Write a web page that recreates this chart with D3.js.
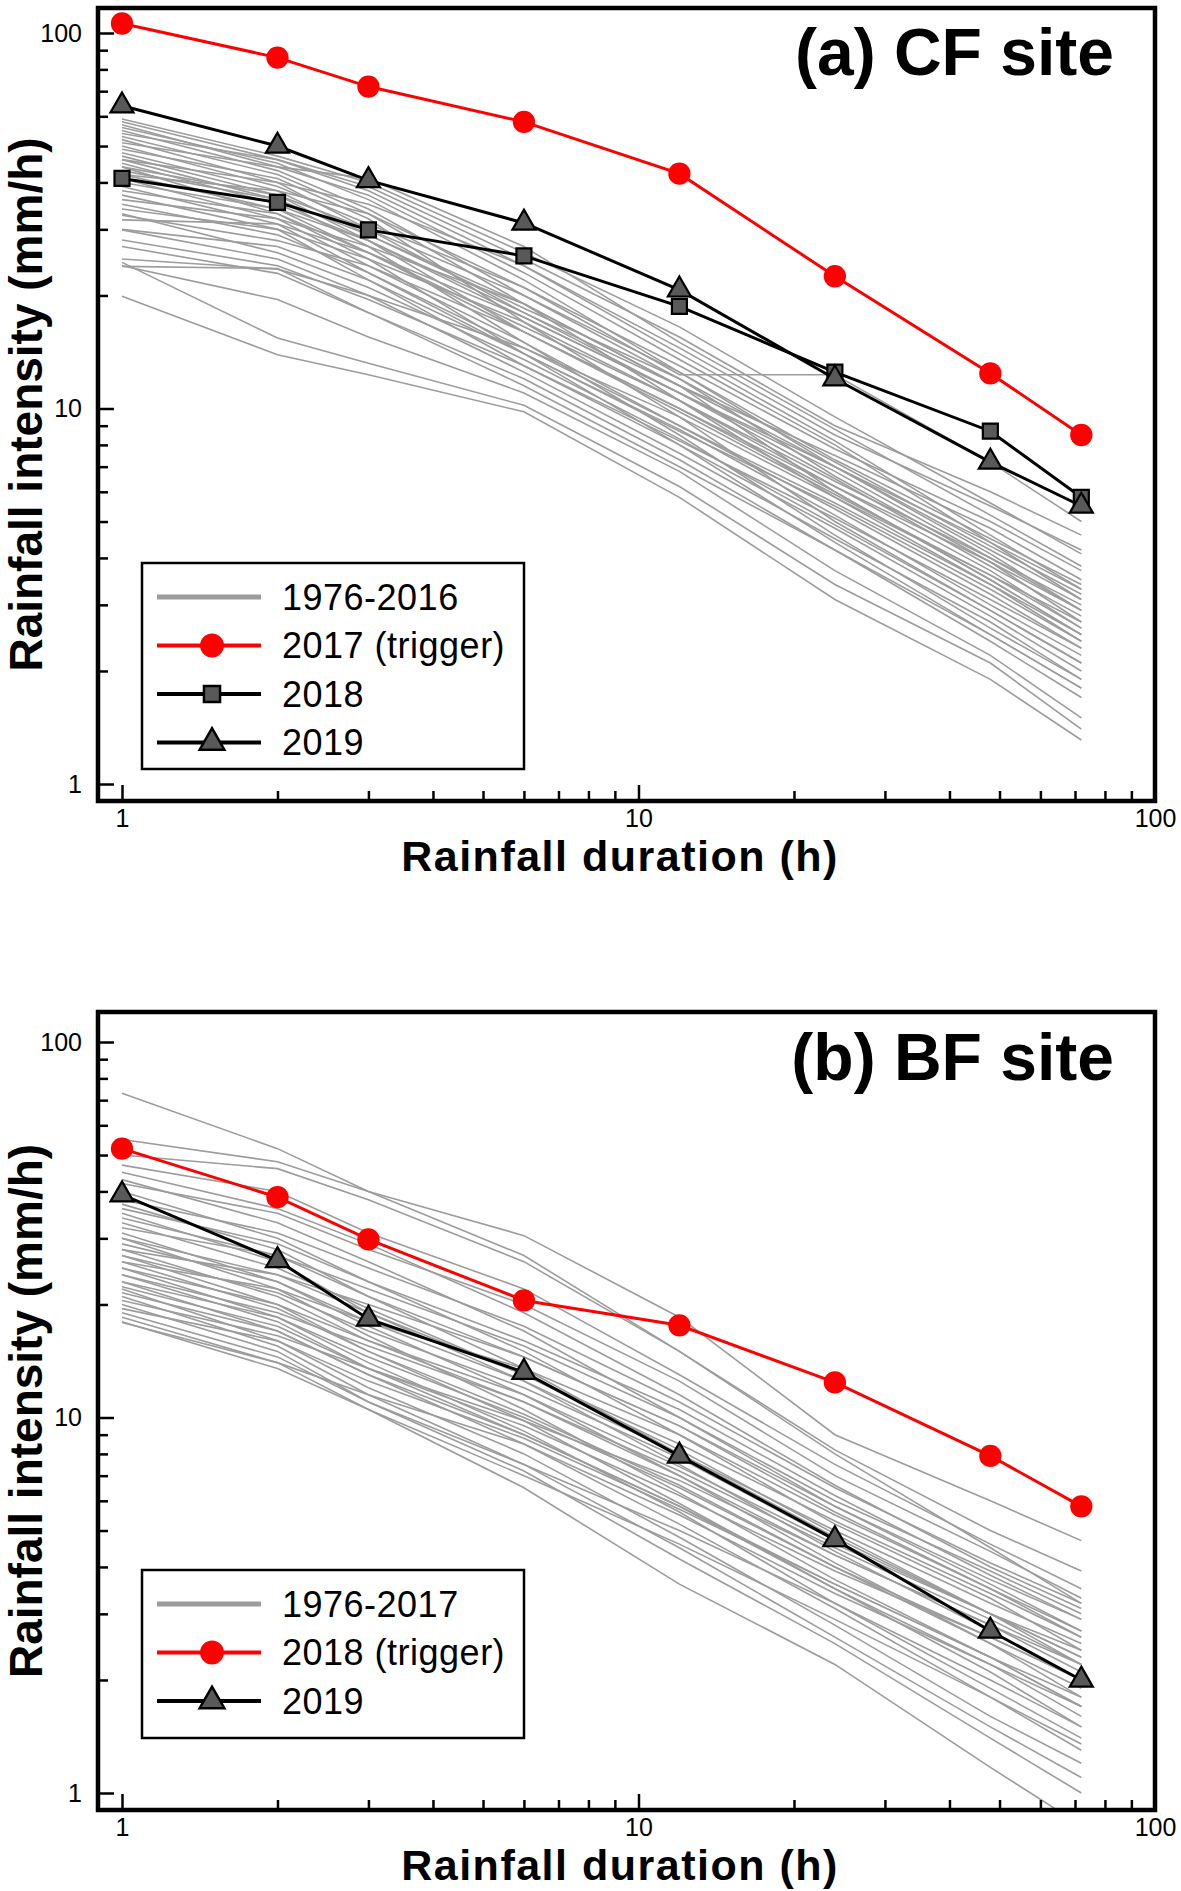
<!DOCTYPE html>
<html>
<head>
<meta charset="utf-8">
<script src="https://cdn.jsdelivr.net/npm/d3@7"></script>
<style>
  body { margin: 0; background: #fff; }
  svg { display: block; font-family: "Liberation Sans", Arial, Helvetica, sans-serif; }
</style>
</head>
<body>
<svg id="chart" width="1181" height="1891"></svg>
<script>
// rainfall durations (h), shared by both panels
const durations = [1, 2, 3, 6, 12, 24, 48, 72];
const majorTicks = [1, 10, 100];

// (a) CF site, intensity (mm/h) at each duration
const cfHistory = [
    [59, 47, 40, 26, 16.5, 9.5, 5.6, 4.1],
    [58, 46, 38, 24, 14, 8.2, 4.6, 3.3],
    [57, 44, 41, 27, 15, 8.8, 5.2, 3.8],
    [56, 45, 36, 22, 12.5, 7.0, 4.1, 2.9],
    [55, 43, 34, 20, 12.0, 6.6, 3.9, 2.7],
    [54, 46, 39, 25, 15.5, 9.0, 6.0, 4.6],
    [53, 42, 33, 19, 10.5, 5.8, 3.4, 2.4],
    [52, 40, 30, 18, 11.5, 7.5, 4.8, 3.5],
    [51, 44, 37, 23, 13.5, 8.0, 4.4, 3.1],
    [50, 39, 31, 21, 13.0, 7.8, 5.0, 3.7],
    [49, 41, 32, 17, 9.5, 5.0, 2.9, 2.1],
    [48, 38, 29, 18.5, 12.0, 7.2, 4.3, 3.2],
    [47, 37, 28, 16, 10.0, 6.2, 3.7, 2.6],
    [46, 40, 35, 24, 14.5, 8.5, 5.5, 4.2],
    [46, 36, 27, 15, 8.5, 4.6, 2.6, 1.9],
    [45, 35, 28, 17.5, 11.0, 6.8, 4.0, 2.9],
    [44, 37, 30, 20, 12.5, 7.3, 4.5, 3.4],
    [44, 33, 25, 14, 8.0, 4.4, 2.5, 1.8],
    [43, 36, 29, 19, 11.5, 6.0, 3.5, 2.5],
    [42, 34, 26, 16.5, 10.5, 6.4, 4.0, 3.0],
    [42, 38, 33, 21, 12.3, 12.3, 7.2, 5.0],
    [41, 32, 24, 15, 9.0, 5.4, 3.2, 2.3],
    [40, 34, 28, 18, 11.0, 6.5, 3.8, 2.8],
    [39, 31, 23, 14.5, 9.5, 5.8, 3.6, 2.6],
    [38, 33, 26, 16, 10.0, 6.0, 3.5, 2.5],
    [37, 30, 22, 13, 8.0, 4.8, 2.8, 2.0],
    [36, 32, 27, 19, 11.5, 7.0, 4.2, 3.1],
    [35, 29, 23, 14, 8.8, 5.2, 3.0, 2.2],
    [34, 30, 25, 17, 10.5, 6.2, 3.9, 2.9],
    [33, 26, 21, 13.5, 8.3, 4.9, 2.9, 2.1],
    [32.7, 28, 24, 16, 9.8, 5.9, 3.6, 2.7],
    [31.8, 31, 26, 17.5, 11, 7.0, 4.4, 3.3],
    [30, 27, 22, 14, 8.7, 5.5, 3.3, 2.4],
    [29.9, 25, 20, 12.5, 7.6, 4.5, 2.7, 1.9],
    [28.1, 24, 19.5, 13, 8.2, 5.1, 3.1, 2.3],
    [27, 22.9, 18, 11.5, 7.0, 4.2, 2.5, 1.8],
    [25, 23.5, 20, 14.5, 9.0, 5.6, 3.4, 2.5],
    [23.9, 23.6, 18, 12, 7.3, 4.2, 2.4, 1.7],
    [24, 19.5, 15.5, 11, 6.8, 3.7, 2.2, 1.5],
    [24.5, 15.4, 13.2, 10.2, 6.2, 3.4, 2.1, 1.4],
    [19.9, 13.9, 12.3, 9.8, 5.8, 3.1, 1.9, 1.31]
];
const cf2017 = [106, 86, 72, 58, 42.2, 22.5, 12.4, 8.5];
const cf2018 = [41, 35.4, 29.9, 25.5, 18.7, 12.5, 8.7, 5.8];
const cf2019 = [64, 50, 40.5, 31.2, 20.7, 12, 7.2, 5.5];
const cfLabels = ["1976-2016", "2017 (trigger)", "2018", "2019"];

// (b) BF site
const bfHistory = [
    [73, 52, 40, 27, 15, 8.0, 4.5, 3.2],
    [55, 48, 40, 30.5, 18.5, 9.0, 6.0, 4.7],
    [50, 46, 38, 26, 15, 8.2, 5.0, 3.9],
    [47, 40, 31, 22, 13, 7.5, 4.6, 3.5],
    [45, 36, 29, 19, 11.5, 6.6, 4.0, 3.1],
    [43, 33, 26, 17, 10.0, 5.8, 3.6, 2.7],
    [42, 35, 28, 20, 12.5, 7.0, 4.4, 3.3],
    [40, 30, 23, 15, 9.0, 5.2, 3.3, 2.4],
    [38, 31, 25, 17.5, 11, 6.5, 4.1, 3.2],
    [37, 28, 21, 13.5, 8.0, 4.8, 3.0, 2.2],
    [36, 29, 23, 16, 10.5, 6.2, 3.8, 2.9],
    [35, 26, 19, 12.5, 7.5, 4.4, 2.7, 2.0],
    [34, 27, 21, 14.5, 9.5, 5.6, 3.5, 2.6],
    [33, 25, 19.5, 13, 8.2, 4.9, 3.0, 2.3],
    [32, 27, 22, 15.5, 10, 6.0, 3.9, 3.0],
    [31, 23, 17.5, 11.5, 7.0, 4.1, 2.5, 1.8],
    [30, 24, 19, 13, 8.5, 5.3, 3.4, 2.6],
    [30, 22, 16.5, 10.5, 6.3, 3.7, 2.3, 1.7],
    [29, 23, 18, 12.5, 8.0, 5.0, 3.2, 2.5],
    [28, 21, 16, 11, 7.0, 4.3, 2.8, 2.1],
    [28, 24, 20, 14.5, 9.5, 5.8, 3.7, 2.9],
    [27, 20, 15, 9.8, 5.9, 3.5, 2.1, 1.5],
    [27, 21.5, 17, 12, 7.8, 4.7, 3.0, 2.3],
    [26, 19.5, 15, 10.2, 6.6, 4.0, 2.6, 2.0],
    [26, 22, 18, 13.5, 9.0, 5.5, 3.5, 2.7],
    [25, 18.5, 14, 9.2, 5.6, 3.2, 1.9, 1.4],
    [25, 20, 16, 11.5, 7.4, 4.6, 3.0, 2.4],
    [24, 18, 13.5, 9.0, 5.8, 3.6, 2.3, 1.7],
    [24, 19, 15.5, 11, 7.2, 4.5, 2.9, 2.2],
    [23, 17, 13, 8.5, 5.2, 3.1, 1.8, 1.3],
    [23, 18.5, 14.5, 10, 6.5, 4.0, 2.5, 1.9],
    [22.3, 17.5, 13.5, 9.5, 6.2, 3.9, 2.6, 2.0],
    [22, 16, 12, 8.0, 4.8, 2.8, 1.6, 1.2],
    [21.5, 17, 13, 9, 5.8, 3.5, 2.2, 1.6],
    [21, 15.5, 11.5, 7.5, 4.5, 2.6, 1.5, 1.1],
    [20.5, 16.5, 13.5, 9.8, 6.8, 4.3, 2.8, 2.2],
    [20, 15, 11, 7.2, 4.2, 2.5, 1.4, 1.0],
    [19.5, 16, 12.5, 8.8, 5.7, 3.6, 2.3, 1.8],
    [19, 14.5, 11, 7.5, 5.0, 3.2, 2.0, 1.5],
    [18.5, 14, 10.5, 7.0, 4.6, 2.9, 1.8, 1.35],
    [18, 13.5, 10.5, 6.5, 3.6, 2.2, 1.17, 0.82],
    [17.9, 14, 11.5, 8.5, 5.5, 3.4, 2.2, 1.7]
];
const bf2018 = [52, 38.6, 29.8, 20.5, 17.6, 12.4, 7.9, 5.8];
const bf2019 = [39.2, 26.2, 18.3, 13.2, 7.9, 4.73, 2.7, 2.0];
const bfLabels = ["1976-2017", "2018 (trigger)", "2019"];

const svg = d3.select("#chart");
const frameLeft = 98;
const x = d3.scaleLog().domain([1, 100]).range([122, 1155]);
const frameRight = x(100);

const panels = [
    {
        id: "a", top: 8, bottom: 801, yRange: [784, 33],
        title: "(a) CF site", titleY: 75,
        legend: { x: 142, y: 563, w: 382, h: 206 },
        history: cfHistory, labels: cfLabels,
        series: [
            { values: cf2018, color: "#000", shape: d3.symbolSquare, size: 225 },
            { values: cf2019, color: "#000", shape: d3.symbolTriangle, size: 230 },
            { values: cf2017, color: "#ff0000", shape: d3.symbolCircle, size: 390 }
        ],
        legendOrder: [2, 0, 1]
    },
    {
        id: "b", top: 1012, bottom: 1810, yRange: [1793, 1042],
        title: "(b) BF site", titleY: 1080,
        legend: { x: 142, y: 1570, w: 382, h: 168 },
        history: bfHistory, labels: bfLabels,
        series: [
            { values: bf2019, color: "#000", shape: d3.symbolTriangle, size: 230 },
            { values: bf2018, color: "#ff0000", shape: d3.symbolCircle, size: 390 }
        ],
        legendOrder: [1, 0]
    }
];

function markerFill(s) {
    return s.color === "#ff0000" ? "#ff0000" : "#595959";
}

function drawPanel(p) {
    const y = d3.scaleLog().domain([1, 100]).range(p.yRange);
    const g = svg.append("g");

    g.append("clipPath").attr("id", "clip-" + p.id)
        .append("rect")
        .attr("x", frameLeft).attr("y", p.top)
        .attr("width", frameRight - frameLeft).attr("height", p.bottom - p.top);

    const line = d3.line()
        .x((d, i) => x(durations[i]))
        .y(d => y(d));

    // historical years in gray
    g.append("g").attr("clip-path", `url(#clip-${p.id})`)
        .selectAll("path")
        .data(p.history)
        .enter()
        .append("path")
        .attr("d", line)
        .attr("fill", "none")
        .attr("stroke", "#9c9c9c")
        .attr("stroke-width", 1.6);

    p.series.forEach(s => {
        g.append("path")
            .attr("d", line(s.values))
            .attr("fill", "none")
            .attr("stroke", s.color)
            .attr("stroke-width", 3);
        g.selectAll(null)
            .data(s.values)
            .enter()
            .append("path")
            .attr("d", d3.symbol(s.shape, s.size))
            .attr("transform", (d, i) => `translate(${x(durations[i])},${y(d)})`)
            .attr("fill", markerFill(s))
            .attr("stroke", s.color === "#ff0000" ? "none" : "#000")
            .attr("stroke-width", 2.2);
    });

    // axes: inward ticks on left and bottom only
    const minor = d3.range(1, 10).flatMap(k => [k, k * 10]).filter(v => !majorTicks.includes(v));

    const yMajor = d3.axisLeft(y).tickValues(majorTicks).tickSize(-16).tickPadding(16).tickFormat(d3.format("d"));
    const yMinor = d3.axisLeft(y).tickValues(minor).tickSize(-10).tickFormat("");
    const xMajor = d3.axisBottom(x).tickValues(majorTicks).tickSize(-16).tickPadding(8).tickFormat(d3.format("d"));
    const xMinor = d3.axisBottom(x).tickValues(minor).tickSize(-10).tickFormat("");

    [yMajor, yMinor].forEach(ax => {
        g.append("g").attr("transform", `translate(${frameLeft},0)`).call(ax);
    });
    [xMajor, xMinor].forEach(ax => {
        g.append("g").attr("transform", `translate(0,${p.bottom})`).call(ax);
    });
    g.selectAll(".domain").remove();
    g.selectAll(".tick line").attr("stroke", "#000").attr("stroke-width", 2.5);
    g.selectAll(".tick text")
        .attr("font-size", 25)
        .attr("font-family", '"Liberation Sans", Arial, sans-serif')
        .attr("fill", "#000");

    g.append("rect")
        .attr("x", frameLeft).attr("y", p.top)
        .attr("width", frameRight - frameLeft).attr("height", p.bottom - p.top)
        .attr("fill", "none")
        .attr("stroke", "#000")
        .attr("stroke-width", 4.5);

    g.append("text")
        .attr("x", 620).attr("y", p.bottom + 70)
        .attr("text-anchor", "middle")
        .attr("font-size", 43).attr("font-weight", "bold")
        .attr("letter-spacing", 1.5)
        .text("Rainfall duration (h)");

    g.append("text")
        .attr("transform", `translate(42,${(p.top + p.bottom) / 2}) rotate(-90)`)
        .attr("text-anchor", "middle")
        .attr("font-size", 46).attr("font-weight", "bold")
        .text("Rainfall intensity (mm/h)");

    g.append("text")
        .attr("x", 1114).attr("y", p.titleY)
        .attr("text-anchor", "end")
        .attr("font-size", 66).attr("font-weight", "bold")
        .text(p.title);

    // legend
    const L = p.legend;
    const lg = g.append("g");
    lg.append("rect")
        .attr("x", L.x).attr("y", L.y).attr("width", L.w).attr("height", L.h)
        .attr("fill", "#fff").attr("stroke", "#000").attr("stroke-width", 2.5);

    const entries = [{ color: "#9c9c9c", shape: null }].concat(p.legendOrder.map(i => p.series[i]));
    entries.forEach((s, i) => {
        const ey = L.y + 34 + i * 48.5;
        lg.append("line")
            .attr("x1", L.x + 15).attr("x2", L.x + 119)
            .attr("y1", ey).attr("y2", ey)
            .attr("stroke", s.color)
            .attr("stroke-width", s.shape ? 4 : 5);
        if (s.shape) {
            lg.append("path")
                .attr("d", d3.symbol(s.shape, s.size * 1.15))
                .attr("transform", `translate(${L.x + 70},${ey})`)
                .attr("fill", markerFill(s))
                .attr("stroke", s.color === "#ff0000" ? "none" : "#000")
                .attr("stroke-width", 2.5);
        }
        lg.append("text")
            .attr("x", L.x + 140).attr("y", ey)
            .attr("dy", "0.35em")
            .attr("font-size", 36)
            .attr("letter-spacing", 0.5)
            .text(p.labels[i]);
    });
}

panels.forEach(drawPanel);
</script>
</body>
</html>
